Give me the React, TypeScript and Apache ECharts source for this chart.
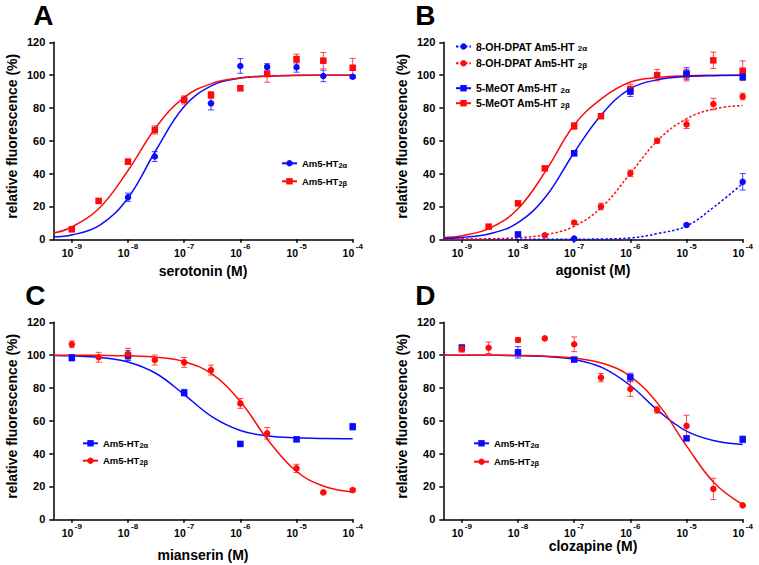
import React, { useEffect, useRef } from "react";
import * as echarts from "echarts";

const FONT = '"Liberation Sans", Arial, Helvetica, sans-serif';
const BLUE = "#0a0aff";
const RED = "#ff0a0a";

// ---- axes ----
const X_EXPONENTS = [-9, -8, -7, -6, -5, -4];
const X_MIN = -9.33;
const X_MAX = -4;
const Y_MIN = 0;
const Y_MAX = 120;
const Y_STEP = 20;

// ---- fitted curves at these log10 concentrations ----
const FIT_LOGX = [-9.33, -9, -8.5, -8, -7.5, -7, -6.5, -6, -5.5, -5, -4.5, -4];

// Panel A: serotonin
const A_ALPHA_CONC = [1e-8, 3e-8, 1e-7, 3e-7, 1e-6, 3e-6, 1e-5, 3e-5, 1e-4];
const A_ALPHA_MEAN = [25.6, 50.4, 85, 82.8, 105.6, 105, 104.8, 99.5, 99];
const A_ALPHA_SEM = [2.5, 3, 1.5, 4, 4.5, 2, 3, 3.5, 1];
const A_ALPHA_FIT = [1.5, 2.6, 8.7, 25.2, 54.4, 80.9, 93.8, 98.2, 99.5, 99.9, 100, 100];
const A_BETA_CONC = [1e-9, 3e-9, 1e-8, 3e-8, 1e-7, 3e-7, 1e-6, 3e-6, 1e-5, 3e-5, 1e-4];
const A_BETA_MEAN = [6.1, 23.4, 47.3, 66.6, 84.9, 87.9, 92, 100.7, 109.8, 108.8, 104.5];
const A_BETA_SEM = [1, 1, 1.5, 2.5, 2.5, 2, 1.5, 5, 3, 5, 5.7];
const A_BETA_FIT = [3.8, 7.5, 19.4, 41.9, 68.3, 86.5, 95.0, 98.3, 99.4, 99.8, 99.9, 100];

// Panel B: agonists
const B_DPAT_ALPHA_CONC = [1e-7, 1e-5, 1e-4];
const B_DPAT_ALPHA_MEAN = [0.4, 8.7, 35];
const B_DPAT_ALPHA_SEM = [0.5, 1, 5];
const B_DPAT_ALPHA_FIT = [0, 0, 0, 0, 0.02, 0.07, 0.2, 0.8, 3.6, 8.1, 20.0, 34.0];
const B_DPAT_BETA_CONC = [3e-8, 1e-7, 3e-7, 1e-6, 3e-6, 1e-5, 3e-5, 1e-4];
const B_DPAT_BETA_MEAN = [2.4, 10.2, 20, 40.2, 60, 70, 82.4, 87];
const B_DPAT_BETA_SEM = [0.5, 1, 2, 2, 1.5, 2.5, 3.5, 2];
const B_DPAT_BETA_FIT = [0.05, 0.11, 0.33, 0.98, 2.85, 7.95, 19.9, 40.1, 60.7, 73.4, 79.5, 81.5];
const B_MEOT_ALPHA_CONC = [1e-8, 1e-7, 1e-6, 1e-5, 1e-4];
const B_MEOT_ALPHA_MEAN = [3, 52.4, 90, 101, 99];
const B_MEOT_ALPHA_SEM = [0.5, 1.5, 3, 3.5, 2];
const B_MEOT_ALPHA_FIT = [0.5, 1.1, 3.4, 10.1, 26.2, 52.9, 76.5, 91.8, 97.3, 99.1, 99.7, 99.9];
const B_MEOT_BETA_CONC = [3e-9, 1e-8, 3e-8, 1e-7, 3e-7, 1e-6, 3e-6, 1e-5, 3e-5, 1e-4];
const B_MEOT_BETA_MEAN = [7.7, 21.9, 43.2, 69, 75, 91.5, 100, 100, 109, 102.7];
const B_MEOT_BETA_SEM = [1, 1, 1, 2, 1.5, 3, 3.5, 3.5, 5, 6];
const B_MEOT_BETA_FIT = [1.1, 2.2, 6.8, 18.6, 42.0, 69.6, 86.0, 95.8, 98.6, 99.6, 99.9, 100];

// Panel C: mianserin
const C_ALPHA_CONC = [1e-9, 1e-8, 1e-7, 1e-6, 1e-5, 1e-4];
const C_ALPHA_MEAN = [98.4, 99.7, 77.1, 45.9, 48.7, 56.4];
const C_ALPHA_SEM = [2, 3, 2, 0.5, 1, 2];
const C_ALPHA_FIT = [99.8, 99.55, 98.6, 95.8, 88.8, 76.0, 62.4, 54.1, 50.7, 49.6, 49.2, 49.1];
const C_BETA_CONC = [1e-9, 3e-9, 1e-8, 3e-8, 1e-7, 3e-7, 1e-6, 3e-6, 1e-5, 3e-5, 1e-4];
const C_BETA_MEAN = [106.6, 98.7, 100.7, 97, 95.6, 90.9, 70.6, 52.4, 31, 16.4, 17.8];
const C_BETA_SEM = [2, 3, 3.5, 3, 3, 3, 3, 3.5, 2.5, 0.5, 1];
const C_BETA_FIT = [100, 99.96, 99.87, 99.58, 98.7, 96.0, 88.4, 71.7, 47.9, 29.1, 20.0, 16.7];

// Panel D: clozapine
const D_ALPHA_CONC = [1e-9, 1e-8, 1e-7, 1e-6, 1e-5, 1e-4];
const D_ALPHA_MEAN = [104.4, 101.7, 97.3, 86.5, 49.3, 48.7];
const D_ALPHA_SEM = [2, 3.5, 1, 2.5, 1, 2];
const D_ALPHA_FIT = [100, 99.97, 99.91, 99.7, 99.1, 97.4, 92.4, 81.5, 66.0, 53.7, 47.8, 45.6];
const D_BETA_CONC = [1e-9, 3e-9, 1e-8, 3e-8, 1e-7, 3e-7, 1e-6, 3e-6, 1e-5, 3e-5, 1e-4];
const D_BETA_MEAN = [103.8, 104.5, 109.2, 110.2, 106.6, 86.3, 79.4, 66.6, 56.9, 18.5, 8.5];
const D_BETA_SEM = [2, 3.5, 1.5, 0, 4.5, 2.5, 4.5, 2, 6.5, 6.5, 0.5];
const D_BETA_FIT = [99.99, 99.97, 99.93, 99.79, 99.38, 98.25, 95.1, 87.1, 70.0, 44.7, 21.9, 8.9];

type Group = {
  id: string;
  conc: number[];
  mean: number[];
  sem: number[];
  fit: number[];
  color: string;
  symbol: string;
  dashed?: boolean;
};

type Panel = {
  letter: string;
  xName: string;
  nameGap: number;
  left: number;
  top: number;
  groups: Group[]; // drawing order
};

const PANELS: Panel[] = [
  {
    letter: "A", xName: "serotonin (M)", nameGap: 25, left: 53.3, top: 42.3,
    groups: [
      { id: "A-a", conc: A_ALPHA_CONC, mean: A_ALPHA_MEAN, sem: A_ALPHA_SEM, fit: A_ALPHA_FIT, color: BLUE, symbol: "circle" },
      { id: "A-b", conc: A_BETA_CONC, mean: A_BETA_MEAN, sem: A_BETA_SEM, fit: A_BETA_FIT, color: RED, symbol: "rect" },
    ],
  },
  {
    letter: "B", xName: "agonist (M)", nameGap: 24, left: 443.3, top: 42.3,
    groups: [
      { id: "B-da", conc: B_DPAT_ALPHA_CONC, mean: B_DPAT_ALPHA_MEAN, sem: B_DPAT_ALPHA_SEM, fit: B_DPAT_ALPHA_FIT, color: BLUE, symbol: "circle", dashed: true },
      { id: "B-db", conc: B_DPAT_BETA_CONC, mean: B_DPAT_BETA_MEAN, sem: B_DPAT_BETA_SEM, fit: B_DPAT_BETA_FIT, color: RED, symbol: "circle", dashed: true },
      { id: "B-mb", conc: B_MEOT_BETA_CONC, mean: B_MEOT_BETA_MEAN, sem: B_MEOT_BETA_SEM, fit: B_MEOT_BETA_FIT, color: RED, symbol: "rect" },
      { id: "B-ma", conc: B_MEOT_ALPHA_CONC, mean: B_MEOT_ALPHA_MEAN, sem: B_MEOT_ALPHA_SEM, fit: B_MEOT_ALPHA_FIT, color: BLUE, symbol: "rect" },
    ],
  },
  {
    letter: "C", xName: "mianserin (M)", nameGap: 29, left: 53.3, top: 322.3,
    groups: [
      { id: "C-a", conc: C_ALPHA_CONC, mean: C_ALPHA_MEAN, sem: C_ALPHA_SEM, fit: C_ALPHA_FIT, color: BLUE, symbol: "rect" },
      { id: "C-b", conc: C_BETA_CONC, mean: C_BETA_MEAN, sem: C_BETA_SEM, fit: C_BETA_FIT, color: RED, symbol: "circle" },
    ],
  },
  {
    letter: "D", xName: "clozapine (M)", nameGap: 17, left: 443.3, top: 322.3,
    groups: [
      { id: "D-a", conc: D_ALPHA_CONC, mean: D_ALPHA_MEAN, sem: D_ALPHA_SEM, fit: D_ALPHA_FIT, color: BLUE, symbol: "rect" },
      { id: "D-b", conc: D_BETA_CONC, mean: D_BETA_MEAN, sem: D_BETA_SEM, fit: D_BETA_FIT, color: RED, symbol: "circle" },
    ],
  },
];

// legend entries: series id, main text, subscript, position, size
const LEGENDS = [
  { id: "A-a", main: "Am5-HT", sub: "2α", left: 281, top: 158.3, big: false },
  { id: "A-b", main: "Am5-HT", sub: "2β", left: 281, top: 176.3, big: false },
  { id: "B-da", main: "8-OH-DPAT Am5-HT ", sub: "2α", left: 455, top: 41, big: true },
  { id: "B-db", main: "8-OH-DPAT Am5-HT ", sub: "2β", left: 455, top: 57.7, big: true },
  { id: "B-ma", main: "5-MeOT Am5-HT ", sub: "2α", left: 455, top: 82.7, big: true },
  { id: "B-mb", main: "5-MeOT Am5-HT ", sub: "2β", left: 455, top: 97.7, big: true },
  { id: "C-a", main: "Am5-HT", sub: "2α", left: 82, top: 438.3, big: false },
  { id: "C-b", main: "Am5-HT", sub: "2β", left: 82, top: 455.7, big: false },
  { id: "D-a", main: "Am5-HT", sub: "2α", left: 473, top: 438.3, big: false },
  { id: "D-b", main: "Am5-HT", sub: "2β", left: 473, top: 456.7, big: false },
];

const GRID_W = 299.4;
const GRID_H = 197;

function buildOption(): any {
  const grid = PANELS.map((p) => ({
    left: p.left, top: p.top, width: GRID_W, height: GRID_H,
    containLabel: false, outerBoundsMode: "none",
  }));

  const xAxis = PANELS.map((p, i) => ({
    gridIndex: i,
    type: "value",
    min: X_MIN,
    max: X_MAX,
    name: p.xName,
    nameLocation: "middle",
    nameGap: p.nameGap,
    nameTextStyle: { fontFamily: FONT, fontWeight: "bold", fontSize: 14, color: "#000" },
    axisLine: { show: true, onZero: false, lineStyle: { color: "#000", width: 1.5 } },
    axisTick: { show: true, customValues: X_EXPONENTS, length: 3.5, lineStyle: { color: "#000", width: 1.5 } },
    axisLabel: {
      customValues: X_EXPONENTS,
      margin: 3,
      formatter: (v: number) => `{b|10}{s|${Math.round(v)}}`,
      rich: {
        b: { fontFamily: FONT, fontWeight: "bold", fontSize: 10.5, lineHeight: 16, verticalAlign: "bottom", color: "#000" },
        s: { fontFamily: FONT, fontWeight: "bold", fontSize: 8, lineHeight: 8, verticalAlign: "top", color: "#000", padding: [0, 0, 0, 1.5] },
      },
    },
    splitLine: { show: false },
  }));

  const yAxis = PANELS.map((p, i) => ({
    gridIndex: i,
    type: "value",
    min: Y_MIN,
    max: Y_MAX,
    interval: Y_STEP,
    name: "relative fluorescence (%)",
    nameLocation: "middle",
    nameGap: 34,
    nameTextStyle: { fontFamily: FONT, fontWeight: "bold", fontSize: 14, color: "#000", padding: [0, 0, 0, 9] },
    axisLine: { show: true, onZero: false, lineStyle: { color: "#000", width: 1.5 } },
    axisTick: { show: true, length: 4, lineStyle: { color: "#000", width: 1.5 } },
    axisLabel: { fontFamily: FONT, fontWeight: "bold", fontSize: 11, color: "#000", margin: 8 },
    splitLine: { show: false },
  }));

  const lines: any[] = [];
  const errs: any[] = [];
  const points: any[] = [];
  PANELS.forEach((p, i) => {
    p.groups.forEach((g) => {
      lines.push({
        type: "line",
        name: g.id,
        xAxisIndex: i,
        yAxisIndex: i,
        data: FIT_LOGX.map((x, k) => [x, g.fit[k]]),
        smooth: 0.4,
        showSymbol: false,
        symbol: g.symbol,
        silent: true,
        z: 2,
        itemStyle: { color: g.color },
        lineStyle: { color: g.color, width: 1.5, type: g.dashed ? [2.5, 2] : "solid" },
      });
      const color = g.color;
      errs.push({
        type: "custom",
        name: g.id + "-err",
        xAxisIndex: i,
        yAxisIndex: i,
        silent: true,
        z: 3,
        encode: { x: 0, y: 1 },
        data: g.conc.map((c, k) => [Math.log10(c), g.mean[k], g.sem[k]]),
        renderItem: (params: any, api: any) => {
          const x = api.value(0);
          const y = api.value(1);
          const e = api.value(2);
          if (!e) return null;
          const t = api.coord([x, y + e]);
          const b = api.coord([x, y - e]);
          const h = 3;
          const st = { stroke: color, lineWidth: 1, opacity: 0.75 };
          return {
            type: "group",
            children: [
              { type: "line", shape: { x1: t[0], y1: t[1], x2: b[0], y2: b[1] }, style: st },
              { type: "line", shape: { x1: t[0] - h, y1: t[1], x2: t[0] + h, y2: t[1] }, style: st },
              { type: "line", shape: { x1: b[0] - h, y1: b[1], x2: b[0] + h, y2: b[1] }, style: st },
            ],
          };
        },
      });
      points.push({
        type: "scatter",
        name: g.id + "-pts",
        xAxisIndex: i,
        yAxisIndex: i,
        silent: true,
        z: 4,
        symbol: g.symbol,
        symbolSize: 6.5,
        itemStyle: { color: g.color, opacity: 1 },
        data: g.conc.map((c, k) => [Math.log10(c), g.mean[k]]),
      });
    });
  });

  const legend = LEGENDS.map((l) => ({
    data: [{ name: l.id }],
    left: l.left,
    top: l.top,
    padding: 0,
    itemWidth: 15,
    itemHeight: 8,
    selectedMode: false,
    formatter: () => `{n|${l.main}}{s|${l.sub}}`,
    textStyle: {
      color: "#000",
      rich: {
        n: { fontFamily: FONT, fontWeight: "bold", fontSize: l.big ? 10.5 : 9.5, lineHeight: 12, color: "#000" },
        s: { fontFamily: FONT, fontWeight: "bold", fontSize: l.big ? 8 : 7.5, lineHeight: 8, verticalAlign: "bottom", color: "#000" },
      },
    },
  }));

  const graphic = PANELS.map((p) => ({
    type: "text",
    x: p.left - (p.letter === "A" ? 20 : 28),
    y: p.top - 41,
    silent: true,
    style: {
      text: p.letter,
      fontFamily: FONT,
      fontWeight: "bold",
      fontSize: 28,
      fill: "#000",
      verticalAlign: "top",
    },
  }));

  return {
    animation: false,
    backgroundColor: "#fff",
    grid,
    xAxis,
    yAxis,
    legend,
    graphic,
    series: [...lines, ...errs, ...points],
  };
}

export default function App() {
  const ref = useRef<HTMLDivElement>(null);
  useEffect(() => {
    if (!ref.current) return;
    const chart = echarts.init(ref.current, undefined, { renderer: "svg" });
    chart.setOption(buildOption());
    return () => chart.dispose();
  }, []);
  return (
    <div
      ref={ref}
      style={{ position: "absolute", left: 0, top: 0, width: 759, height: 565 }}
    />
  );
}
